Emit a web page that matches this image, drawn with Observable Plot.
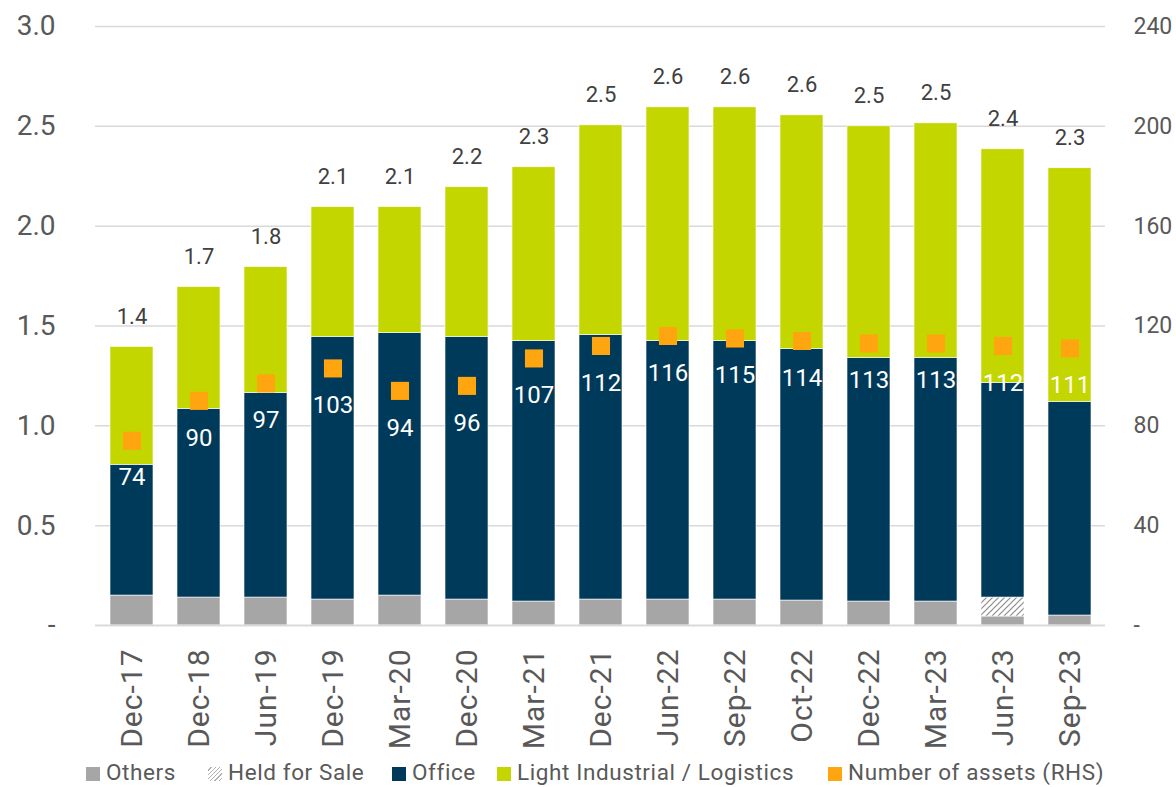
<!DOCTYPE html>
<html>
<head>
<meta charset="utf-8">
<script src="https://cdn.jsdelivr.net/npm/d3@7"></script>
<script src="https://cdn.jsdelivr.net/npm/@observablehq/plot@0.6"></script>
<style>
  body { margin: 0; background: #fff; font-family: Roboto, "Noto Sans", sans-serif; }
  #chart { width: 1176px; position: relative; }
  .legend { position: relative; height: 35px; font-size: 22.5px; color: #595959; }
  .legend .item { position: absolute; top: 5px; height: 30px; display: flex; align-items: center; }
  .legend .sw { width: 14px; height: 14px; margin-right: 6px; margin-top: 3px; }
</style>
</head>
<body>
<div id="chart"></div>
<script>
const dates = ["Dec-17","Dec-18","Jun-19","Dec-19","Mar-20","Dec-20","Mar-21","Dec-21","Jun-22","Sep-22","Oct-22","Dec-22","Mar-23","Jun-23","Sep-23"];
const others      = [0.15,0.14,0.14,0.13,0.15,0.13,0.12,0.13,0.13,0.13,0.125,0.12,0.12,0.045,0.05];
const heldForSale = [0,0,0,0,0,0,0,0,0,0,0,0,0,0.095,0];
const office      = [0.655,0.945,1.025,1.315,1.315,1.315,1.305,1.325,1.295,1.295,1.26,1.22,1.22,1.075,1.07];
const logistics   = [0.59,0.61,0.63,0.65,0.63,0.75,0.87,1.05,1.17,1.17,1.17,1.16,1.175,1.17,1.17];
const totals      = ["1.4","1.7","1.8","2.1","2.1","2.2","2.3","2.5","2.6","2.6","2.6","2.5","2.5","2.4","2.3"];
const assets      = [74,90,97,103,94,96,107,112,116,115,114,113,113,112,111];
const leftTicks   = [0,0.5,1.0,1.5,2.0,2.5,3.0];
const rightTicks  = [0,40,80,120,160,200,240];
const seriesNames = ["Others","Held for Sale","Office","Light Industrial / Logistics"];
const seriesColors = ["#A6A6A6","url(#hatch)","#003A5A","#C4D600"];
const assetName = "Number of assets (RHS)";
const assetColor = "#FFA510";
const rhsFactor = 80; // 240 on RHS == 3.0 on LHS

const seriesValues = [others, heldForSale, office, logistics];
const table = [];
dates.forEach((d, i) => {
  seriesNames.forEach((s, k) => table.push({date: d, series: s, value: seriesValues[k][i]}));
});
const tops = dates.map((d, i) => ({date: d, top: others[i] + heldForSale[i] + office[i] + logistics[i], label: totals[i]}));
const assetRows = dates.map((d, i) => ({date: d, v: assets[i] / rhsFactor, n: assets[i]}));

const plot = Plot.plot({
  width: 1176,
  height: 752,
  marginLeft: 95,
  marginRight: 71,
  marginTop: 26,
  marginBottom: 127,
  style: {fontFamily: "Roboto, 'Noto Sans', sans-serif", background: "#fff"},
  x: {domain: dates, paddingInner: 0.36, paddingOuter: 0.18, label: null},
  y: {domain: [0, 3], label: null},
  color: {domain: seriesNames, range: seriesColors},
  marks: [
    Plot.ruleY(leftTicks.slice(1), {stroke: "#D9D9D9", strokeWidth: 1.5}),
    Plot.barY(table, {x: "date", y: "value", fill: "series", stroke: "#fff", strokeWidth: 0.6}),
    Plot.ruleY([0], {stroke: "#D9D9D9", strokeWidth: 2}),
    Plot.text(tops, {x: "date", y: "top", text: "label", dy: -30, fill: "#404040", fontSize: 22}),
    Plot.dot(assetRows, {x: "date", y: "v", symbol: "square", r: 10.2, fill: assetColor}),
    Plot.text(assetRows, {x: "date", y: "v", text: d => String(d.n), dy: 37, fill: "#fff", fontSize: 24}),
    Plot.axisY({anchor: "left", ticks: leftTicks, tickSize: 0, tickPadding: 40, fontSize: 28, color: "#595959",
      tickFormat: d => d === 0 ? "-" : d.toFixed(1), label: null}),
    Plot.axisY({anchor: "right", ticks: rightTicks.map(v => v / rhsFactor), tickSize: 0, tickPadding: 28, fontSize: 23, color: "#595959",
      tickFormat: d => { const v = Math.round(d * rhsFactor); return v === 0 ? "-" : String(v); }, label: null}),
    Plot.axisX({tickRotate: -90, tickSize: 0, tickPadding: 23, fontSize: 30, color: "#595959", label: null})
  ]
});

const svg = d3.select(plot);
svg.selectAll('g[aria-label="x-axis tick label"] text').style("letter-spacing", "1px");

// hatch pattern
const defs = svg.insert("defs", ":first-child");
const pat = defs.append("pattern").attr("id", "hatch").attr("patternUnits", "userSpaceOnUse")
  .attr("width", 6).attr("height", 6);
pat.append("rect").attr("width", 6).attr("height", 6).attr("fill", "#fff");
pat.append("path").attr("d", "M-1,1 l2,-2 M0,6 l6,-6 M5,7 l2,-2").attr("stroke", "#8C8C8C").attr("stroke-width", 1.2);

document.getElementById("chart").appendChild(plot);

// legend
const legend = document.createElement("div");
legend.className = "legend";
const legendNames = [...seriesNames, assetName];
const legendColors = ["#A6A6A6", "hatch", "#003A5A", "#C4D600", assetColor];
const legendX = [86, 208, 392, 497, 828];
legendNames.forEach((name, i) => {
  const item = document.createElement("div");
  item.className = "item";
  item.style.left = legendX[i] + "px";
  const sw = document.createElement("div");
  sw.className = "sw";
  if (legendColors[i] === "hatch") {
    sw.style.background = "repeating-linear-gradient(135deg, #fff 0 2px, #B0B0B0 2px 3px)";
  } else {
    sw.style.background = legendColors[i];
  }
  const lab = document.createElement("span");
  lab.textContent = name;
  lab.style.letterSpacing = "0.6px";
  item.appendChild(sw);
  item.appendChild(lab);
  legend.appendChild(item);
});
document.getElementById("chart").appendChild(legend);
</script>
</body>
</html>
